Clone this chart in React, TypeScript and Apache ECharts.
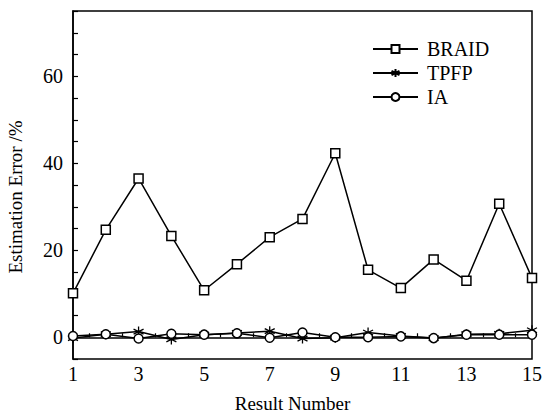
import React, { useEffect, useRef } from "react";
import * as echarts from "echarts";

const resultNumbers = [1, 2, 3, 4, 5, 6, 7, 8, 9, 10, 11, 12, 13, 14, 15];
const braid = [10.1, 24.7, 36.5, 23.3, 10.8, 16.8, 23.0, 27.2, 42.3, 15.5, 11.3, 17.9, 13.0, 30.7, 13.6];
const tpfp = [-0.2, 0.7, 1.3, -0.5, 0.6, 1.0, 1.4, -0.3, -0.1, 1.1, 0.3, -0.2, 0.7, 0.8, 1.6];
const ia = [0.3, 0.7, -0.3, 0.8, 0.6, 0.9, -0.1, 1.1, 0.0, 0.0, 0.2, -0.2, 0.6, 0.6, 0.6];

const FONT = "Times New Roman, Liberation Serif, DejaVu Serif, serif";
const ASTERISK = "path://M5 0 L5 10 M0.67 2.5 L9.33 7.5 M0.67 7.5 L9.33 2.5";

export default function App() {
  const ref = useRef<HTMLDivElement>(null);
  useEffect(() => {
    const chart = echarts.init(ref.current!, null, { renderer: "svg" });
    const mk = (vals: number[]) => resultNumbers.map((x, i) => [x, vals[i]]);
    const lineStyle = { color: "#000", width: 1.5 };
    chart.setOption({
      animation: false,
      backgroundColor: "#fff",
      textStyle: { fontFamily: FONT },
      grid: {
        left: 73,
        right: 10,
        top: 11,
        bottom: 57,
        outerBoundsMode: "none",
        containLabel: false,
        show: true,
        borderColor: "#000",
        borderWidth: 1.5,
        backgroundColor: "transparent",
      },
      legend: {
        orient: "vertical",
        left: 367,
        top: 34,
        itemWidth: 45,
        itemHeight: 10,
        itemGap: 4,
        textStyle: { fontFamily: FONT, fontSize: 20, color: "#000", padding: [0, 0, 0, 4] },
        data: ["BRAID", "TPFP", "IA"],
      },
      xAxis: {
        type: "value",
        min: 1,
        max: 15,
        interval: 0.5,
        name: "Result Number",
        nameLocation: "middle",
        nameGap: 35,
        nameTextStyle: { fontFamily: FONT, fontSize: 19, color: "#000", padding: [0, 20, 0, 0] },
        axisLine: { lineStyle: { color: "#000", width: 1.5 } },
        axisTick: { inside: true, length: 4, lineStyle: { color: "#000", width: 1.2 } },
        axisLabel: {
          fontFamily: FONT,
          fontSize: 20,
          color: "#000",
          margin: 5,
          formatter: (v: number) => (Number.isInteger(v) && (v - 1) % 2 === 0 ? String(v) : ""),
        },
        splitLine: { show: false },
      },
      yAxis: {
        type: "value",
        min: -5,
        max: 75,
        interval: 5,
        name: "Estimation Error /%",
        nameLocation: "middle",
        nameGap: 48,
        nameTextStyle: { fontFamily: FONT, fontSize: 19, color: "#000", padding: [0, 24, 0, 0] },
        axisLine: { lineStyle: { color: "#000", width: 1.5 } },
        axisTick: { inside: true, length: 5, lineStyle: { color: "#000", width: 1.2 } },
        axisLabel: {
          fontFamily: FONT,
          fontSize: 20,
          color: "#000",
          margin: 10,
          formatter: (v: number) => (v % 20 === 0 ? String(v) : ""),
        },
        splitLine: { show: false },
      },
      series: [
        {
          name: "BRAID",
          type: "line",
          data: mk(braid),
          symbol: "rect",
          symbolSize: 9,
          lineStyle,
          itemStyle: { color: "#fff", borderColor: "#000", borderWidth: 1.5 },
          z: 3,
        },
        {
          name: "TPFP",
          type: "line",
          data: mk(tpfp),
          symbol: ASTERISK,
          symbolSize: 10,
          lineStyle,
          itemStyle: { color: "#000", borderColor: "#000", borderWidth: 1.3 },
          z: 4,
        },
        {
          name: "IA",
          type: "line",
          data: mk(ia),
          symbol: "circle",
          symbolSize: 9,
          lineStyle,
          itemStyle: { color: "#fff", borderColor: "#000", borderWidth: 1.5 },
          z: 5,
        },
      ],
    });
    return () => chart.dispose();
  }, []);
  return <div ref={ref} style={{ width: 542, height: 416, position: "absolute", left: 0, top: 0 }} />;
}
